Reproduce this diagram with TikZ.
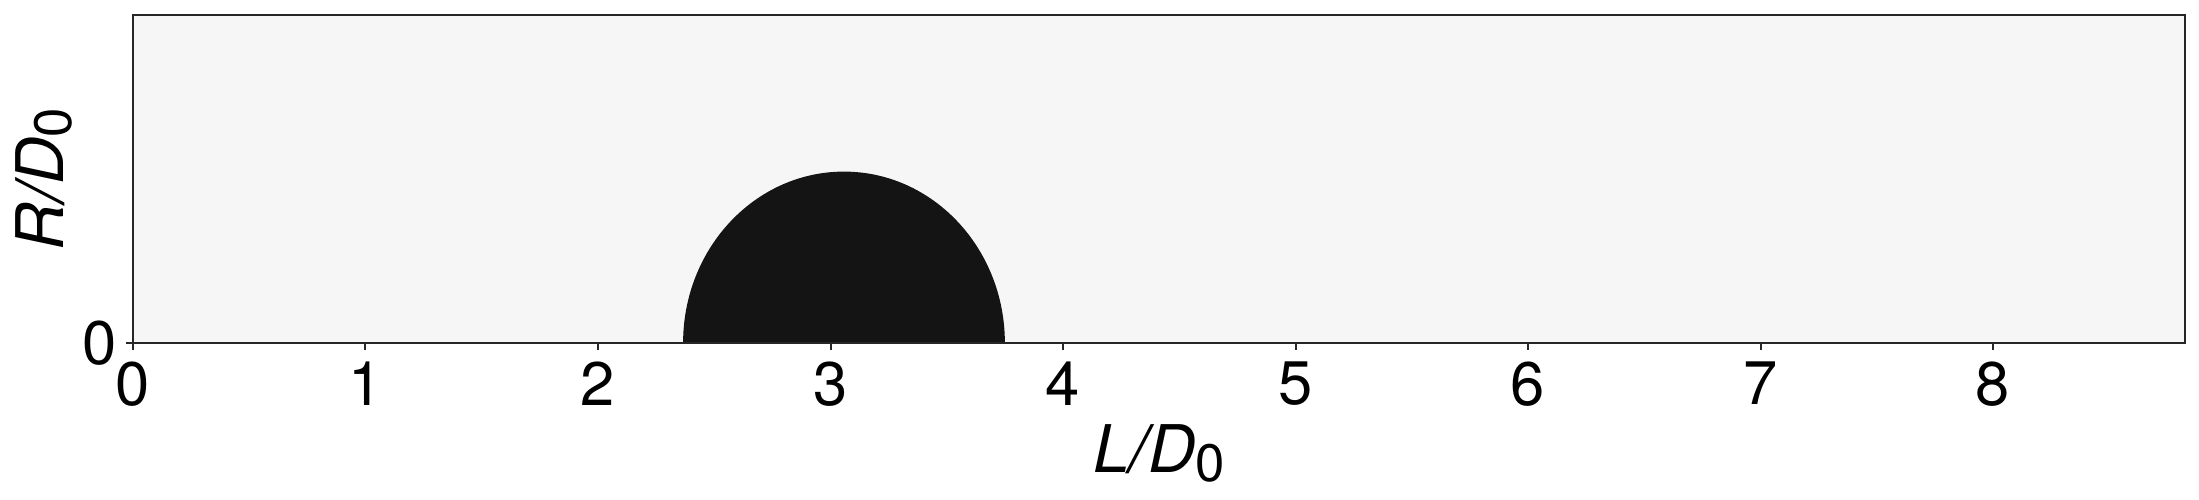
\documentclass[tikz,border=0pt]{standalone}
\usepackage{fontspec}
\setmainfont{TeX Gyre Heros}
\begin{document}
\begin{tikzpicture}[
  x=2.325cm, y=2.325cm,
  frame/.style={draw=black!85, line width=0.57pt},
  tickmark/.style={draw=black!85, line width=0.57pt},
  ticklbl/.style={inner sep=0pt, font=\fontsize{17.5}{20}\selectfont},
  axlbl/.style={inner sep=0pt, font=\fontsize{18.7}{22}\selectfont\itshape},
]

% --- fixed bounding box (white background) ---
\useasboundingbox[fill=white] (-0.572,-0.675) rectangle (8.886,1.475);

% --- domain and droplet ---
\fill[black!3.5] (0,0) rectangle (8.826,1.411);
\fill[black!92] (2.366,0)
  arc[start angle=180, end angle=0, x radius=0.692, y radius=0.737] -- cycle;
\draw[frame] (0,0) rectangle (8.826,1.411);

% --- ticks ---
\foreach \i in {0,...,8}{
  \draw[tickmark] (\i,0) -- (\i,-0.03);
  \node[ticklbl, anchor=north] (xt\i) at (\i,-0.077) {\i};
}
\draw[tickmark] (0,0) -- (-0.03,0);
\node[ticklbl, anchor=east] (yt0) at (-0.069,0) {0};

% --- axis labels ---
\node[axlbl, anchor=base] (xlab) at (4.413,-0.559)
  {L/D\raisebox{-2.3pt}{\fontsize{15}{16}\selectfont\upshape 0}};
\node[axlbl, anchor=base, rotate=90] (ylab) at (-0.301,0.705)
  {R/D\raisebox{-2.3pt}{\fontsize{15}{16}\selectfont\upshape 0}};

\end{tikzpicture}
\end{document}
